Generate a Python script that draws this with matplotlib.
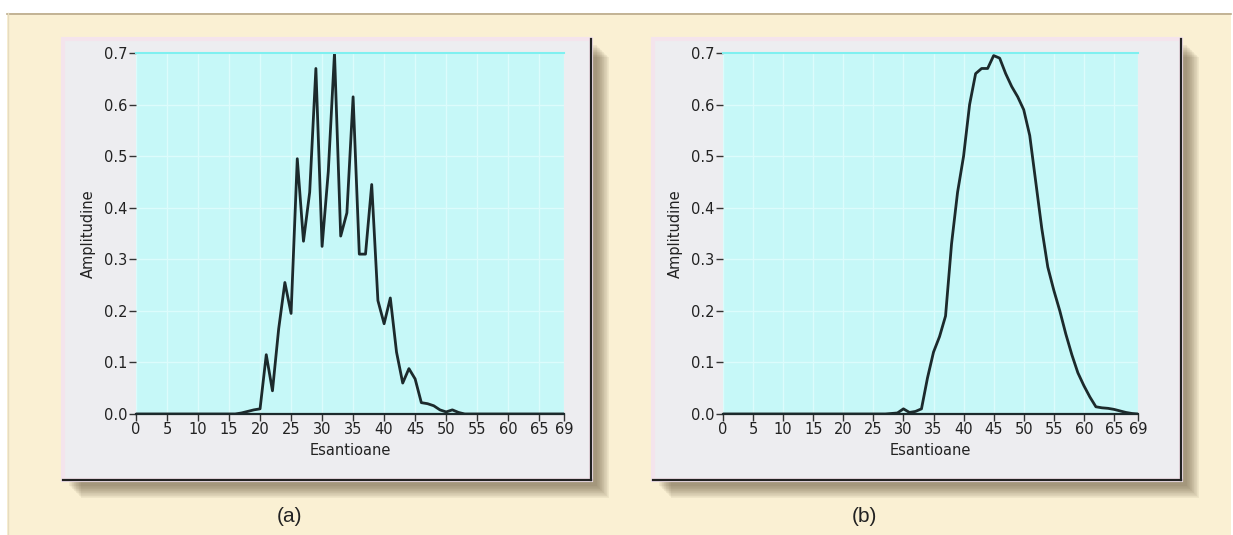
import matplotlib
matplotlib.use("Agg")
import matplotlib.pyplot as plt
from matplotlib.patches import Rectangle

# samples 0..69
samples = list(range(70))

amp_a = [0, 0, 0, 0, 0, 0, 0, 0, 0, 0,
         0, 0, 0, 0, 0, 0, 0, 0.002, 0.005, 0.008,
         0.01, 0.115, 0.045, 0.165, 0.255, 0.195, 0.495, 0.335, 0.43, 0.67,
         0.325, 0.47, 0.70, 0.345, 0.39, 0.615, 0.31, 0.31, 0.445, 0.22,
         0.175, 0.225, 0.12, 0.06, 0.088, 0.068, 0.022, 0.02, 0.016, 0.008,
         0.004, 0.008, 0.003, 0, 0, 0, 0, 0, 0, 0,
         0, 0, 0, 0, 0, 0, 0, 0, 0, 0]

amp_b = [0, 0, 0, 0, 0, 0, 0, 0, 0, 0,
         0, 0, 0, 0, 0, 0, 0, 0, 0, 0,
         0, 0, 0, 0, 0, 0, 0, 0, 0.001, 0.002,
         0.01, 0.003, 0.005, 0.01, 0.07, 0.12, 0.15, 0.19, 0.33, 0.43,
         0.50, 0.60, 0.66, 0.67, 0.67, 0.695, 0.69, 0.66, 0.635, 0.615,
         0.59, 0.54, 0.45, 0.36, 0.285, 0.24, 0.20, 0.155, 0.115, 0.08,
         0.055, 0.033, 0.014, 0.012, 0.011, 0.009, 0.006, 0.003, 0.001, 0.0]

xticks = [0, 5, 10, 15, 20, 25, 30, 35, 40, 45, 50, 55, 60, 65, 69]
yticks = [0.0, 0.1, 0.2, 0.3, 0.4, 0.5, 0.6, 0.7]
panel_labels = ["(a)", "(b)"]

W, H = 1233, 535
fig = plt.figure(figsize=(W / 100, H / 100), dpi=100)
fig.patch.set_facecolor("white")

# background layer in pixel coordinates
bg = fig.add_axes([0, 0, 1, 1])
bg.set_xlim(0, W)
bg.set_ylim(H, 0)
bg.axis("off")

bg.add_patch(Rectangle((7, 13), W - 9, H - 13, facecolor="#faf0d3",
                       edgecolor="none"))
bg.plot([7, W - 2], [13.5, 13.5], color="#b9a98a", lw=1.2)
bg.plot([7.5, 7.5], [13, H], color="#e6dcc0", lw=1)

font_tick = ["DejaVu Sans Condensed", "DejaVu Sans"]

boxes = [(63, 39, 591, 480), (653, 39, 1181, 480)]
axes_px = [(136, 53, 564, 414), (723, 53, 1138, 414)]
label_x = [290, 864]
series = [amp_a, amp_b]

for (bx0, by0, bx1, by1), (ax0, ay0, ax1, ay1), amp, lab, lx in zip(
        boxes, axes_px, series, panel_labels, label_x):
    # soft drop shadow on right and bottom
    for k in range(1, 20):
        bg.add_patch(Rectangle((bx0 + 5 + k * 0.7, by0 + 5 + k * 0.7),
                               bx1 - bx0, by1 - by0,
                               facecolor="#5a4a30", alpha=0.035,
                               edgecolor="none"))
    bg.add_patch(Rectangle((bx0, by0), bx1 - bx0, by1 - by0,
                           facecolor="#ededf0", edgecolor="#f4e4ec", lw=3))
    bg.plot([bx1, bx1], [by0, by1], color="#222222", lw=1.6)
    bg.plot([bx0, bx1], [by1, by1], color="#222222", lw=1.6)

    ax = fig.add_axes([ax0 / W, 1 - ay1 / H, (ax1 - ax0) / W,
                       (ay1 - ay0) / H])
    ax.set_facecolor("#c6f8f8")
    ax.plot(samples, amp, color="#1c2a2c", lw=2.0)
    ax.set_xlim(0, 69)
    ax.set_ylim(0, 0.7)
    ax.set_xticks(xticks)
    ax.set_yticks(yticks)
    ax.set_yticklabels([f"{v:.1f}" for v in yticks])
    ax.grid(True, color="#dcfcfc", lw=1.0)
    ax.set_axisbelow(True)
    for s in ("left", "right"):
        ax.spines[s].set_visible(False)
    ax.spines["top"].set_color("#7ff0f0")
    ax.spines["top"].set_linewidth(1.5)
    ax.spines["bottom"].set_color("#1c2a2c")
    ax.spines["bottom"].set_linewidth(1.6)
    ax.tick_params(axis="both", direction="out", length=5, width=1,
                   color="#333333", labelsize=10.5, labelcolor="#222222",
                   pad=1)
    for t in ax.get_xticklabels() + ax.get_yticklabels():
        t.set_family(font_tick)
    ax.set_xlabel("Esantioane", family=font_tick, fontsize=10.5,
                  color="#222222", labelpad=4)
    ax.set_ylabel("Amplitudine", family=font_tick, fontsize=10.5,
                  color="#222222", labelpad=6)

    bg.text(lx, 516, lab, ha="center", va="center", fontsize=15,
            family=["Liberation Sans", "DejaVu Sans"], color="#222222")

fig.savefig("out.png", dpi=100, facecolor=fig.get_facecolor())
